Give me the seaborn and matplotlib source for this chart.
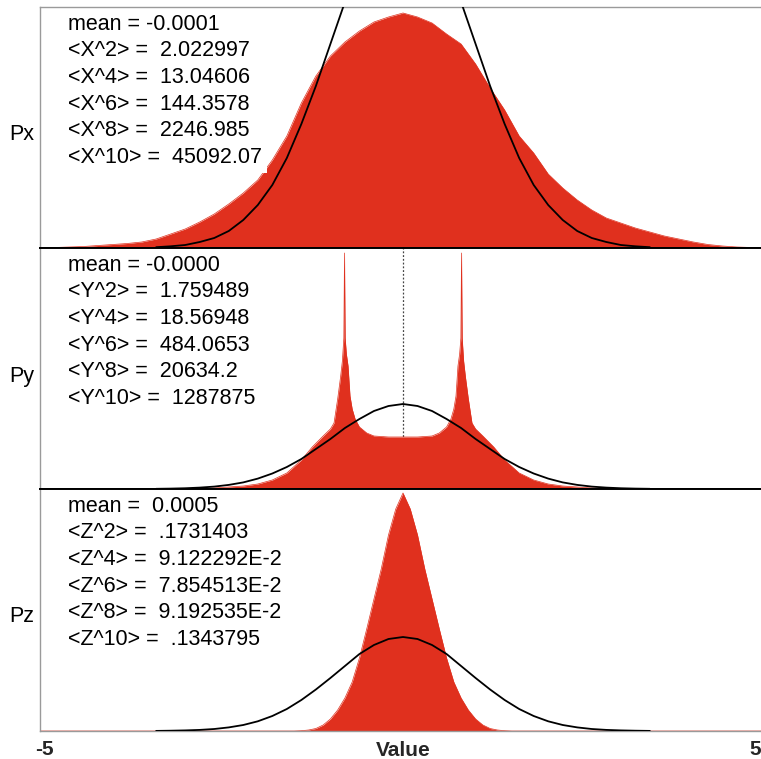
import matplotlib
matplotlib.use("Agg")
import matplotlib.pyplot as plt
import matplotlib.transforms as mtransforms
import seaborn as sns

# ---------------- data ----------------
# histogram heights are in "pixels of panel height" units
px_v = [-5.0, -4.8, -4.6, -4.4, -4.2, -4.0, -3.8, -3.6, -3.4, -3.2, -3.0,
        -2.8, -2.6, -2.4, -2.2, -2.0, -1.8, -1.6, -1.4, -1.2, -1.0,
        -0.8, -0.6, -0.4, -0.2, 0.0, 0.2, 0.4, 0.6, 0.8, 1.0,
        1.2, 1.4, 1.6, 1.8, 2.0, 2.2, 2.4, 2.6, 2.8, 3.0,
        3.2, 3.4, 3.6, 3.8, 4.0, 4.2, 4.4, 4.6, 4.8, 5.0]
px_h = [0, 0.5, 1, 1.5, 2.5, 3.5, 4.5, 6, 9, 14, 19,
        26, 34, 44, 55, 68, 88, 112, 145, 172, 192,
        206, 217, 226, 231, 235, 231, 225, 214, 204, 184,
        160, 138, 112, 95, 74, 60, 48, 38, 30, 25,
        20, 16, 12, 9, 6, 3.5, 2, 1, 0.5, 0]

py_v = [-5.0, -3.0, -2.8, -2.6, -2.4, -2.2, -2.0, -1.8, -1.6, -1.4, -1.25,
        -1.1, -1.0, -0.95, -0.9, -0.86, -0.835, -0.815, -0.806, -0.797,
        -0.78, -0.757, -0.73, -0.7, -0.66, -0.6, -0.5, -0.4, -0.2, 0.0,
        0.2, 0.4, 0.5, 0.6, 0.66, 0.7, 0.73, 0.757, 0.78, 0.797,
        0.806, 0.815, 0.835, 0.86, 0.9, 0.95, 1.0, 1.1, 1.25, 1.4,
        1.6, 1.8, 2.0, 2.2, 2.4, 2.6, 2.8, 3.0, 5.0]
py_h = [0, 0, 0.5, 1, 2, 3, 5, 9, 16, 29, 42,
        53, 60, 66, 90, 112, 128, 151, 236, 151,
        135, 123, 93, 80, 70, 62, 56, 53, 52, 52,
        52, 53, 56, 62, 70, 80, 93, 123, 135, 151,
        236, 151, 128, 112, 90, 66, 60, 53, 42, 29,
        16, 9, 5, 3, 2, 1, 0.5, 0, 0]

pz_v = [-5.0, -1.5, -1.4, -1.3, -1.2, -1.1, -1.0, -0.9, -0.8, -0.7, -0.6,
        -0.5, -0.4, -0.3, -0.2, -0.1, 0.0, 0.1, 0.2, 0.3, 0.4,
        0.5, 0.6, 0.7, 0.8, 0.9, 1.0, 1.1, 1.2, 1.3, 1.4, 1.5, 5.0]
pz_h = [0, 0, 0.3, 1, 2.5, 6, 12, 21, 33, 49, 73,
        102, 132, 162, 196, 222, 238, 222, 196, 162, 132,
        102, 73, 49, 33, 21, 12, 6, 2.5, 1, 0.3, 0, 0]

# reference gaussian curves
curve_v = [-3.4, -3.2, -3.0, -2.8, -2.6, -2.4, -2.2, -2.0, -1.8, -1.6, -1.4,
           -1.2, -1.0, -0.8, -0.6, -0.4, -0.2, 0.0, 0.2, 0.4, 0.6,
           0.8, 1.0, 1.2, 1.4, 1.6, 1.8, 2.0, 2.2, 2.4, 2.6,
           2.8, 3.0, 3.2, 3.4]
px_curve = [0.8, 1.7, 3, 6, 10, 17, 28, 43, 63, 90, 124,
            162, 204, 246, 284, 316, 336, 343, 336, 316, 284,
            246, 204, 162, 124, 90, 63, 43, 28, 17, 10,
            6, 3, 1.7, 0.8]
py_curve = [0.2, 0.4, 0.75, 1.4, 2.4, 4.1, 6.6, 10.4, 15.5, 22, 30,
            40, 50, 61, 70, 78, 83, 85, 83, 78, 70,
            61, 50, 40, 30, 22, 15.5, 10.4, 6.6, 4.1, 2.4,
            1.4, 0.75, 0.4, 0.2]
pz_curve = [0.1, 0.3, 0.6, 1.1, 2, 3.6, 6, 9.7, 15, 22, 31,
            41.5, 53, 65, 77, 86, 92, 94, 92, 86, 77,
            65, 53, 41.5, 31, 22, 15, 9.7, 6, 3.6, 2,
            1.1, 0.6, 0.3, 0.1]

panel_names = ["Px", "Py", "Pz"]
panel_texts = [
    ["mean = -0.0001", "<X^2> =  2.022997", "<X^4> =  13.04606",
     "<X^6> =  144.3578", "<X^8> =  2246.985", "<X^10> =  45092.07"],
    ["mean = -0.0000", "<Y^2> =  1.759489", "<Y^4> =  18.56948",
     "<Y^6> =  484.0653", "<Y^8> =  20634.2", "<Y^10> =  1287875"],
    ["mean =  0.0005", "<Z^2> =  .1731403", "<Z^4> =  9.122292E-2",
     "<Z^6> =  7.854513E-2", "<Z^8> =  9.192535E-2", "<Z^10> =  .1343795"],
]
x_ticks = [-5, 5]
x_tick_labels = ["-5", "5"]
x_label = "Value"

# ---------------- styling ----------------
sns.set_theme(style="white")
plt.rcParams['font.family'] = ['Liberation Sans', 'DejaVu Sans']

RED = "#e0301e"
GRAY = "#9a9a9a"
W, H = 761, 759
FS = 15.5

fig = plt.figure(figsize=(W / 100, H / 100), dpi=100)

# panel extents in pixels (top, bottom)
extents = [(7, 248), (248, 489), (489, 731)]
hist_data = [(px_v, px_h), (py_v, py_h), (pz_v, pz_h)]
curves = [px_curve, py_curve, pz_curve]
label_y = [135, 377, 617]

for i, (top, bot) in enumerate(extents):
    ax = fig.add_axes([40 / W, (H - bot) / H, 726 / W, (bot - top) / H])
    v, h = hist_data[i]
    ax.fill_between(v, h, 0, color=RED, lw=0, zorder=1)
    sns.lineplot(x=v, y=h, ax=ax, color=RED, lw=0.5, zorder=1.5, sort=False)
    sns.lineplot(x=curve_v, y=curves[i], ax=ax, color="black", lw=1.3, zorder=4)
    if i == 1:
        ax.axvline(0, color="#444444", lw=0.9, ls=(0, (1.5, 1.5)), zorder=0.5)

    ax.set_xlim(-5, 5)
    ax.set_ylim(0, bot - top)
    ax.set_xlabel("")
    ax.set_ylabel("")
    ax.set_yticks([])
    ax.tick_params(length=0)

    for s in ["left", "right", "top", "bottom"]:
        ax.spines[s].set_visible(True)
        ax.spines[s].set_color(GRAY)
        ax.spines[s].set_linewidth(1.0)
    if i < 2:
        ax.spines["bottom"].set_color("black")
        ax.spines["bottom"].set_linewidth(1.4)
    if i > 0:
        ax.spines["top"].set_color("black")
        ax.spines["top"].set_linewidth(1.4)

    # statistics text block
    height = bot - top
    for j, line in enumerate(panel_texts[i]):
        yc = top + 15 + j * 26.6
        base = yc + 0.358 * FS * 100 / 72
        pad = 3.5 if j == 5 else 1.5
        ax.text(28 / 726, (bot - base) / height, line, transform=ax.transAxes,
                ha="left", va="baseline", fontsize=FS, color="black", zorder=3,
                bbox=dict(facecolor="white", edgecolor="none", pad=pad))

    fig.text(22 / W, 1 - label_y[i] / H, panel_names[i], ha="center",
             va="center", fontsize=FS, color="black")

    if i < 2:
        ax.set_xticks([])
    else:
        ax.set_xticks(x_ticks)
        ax.set_xticklabels(x_tick_labels, fontsize=15, fontweight="bold")
        ax.tick_params(axis="x", pad=6.5)
        shifts = [4, -11]
        for tick, dx in zip(ax.xaxis.get_major_ticks(), shifts):
            tick.label1.set_transform(
                tick.label1.get_transform()
                + mtransforms.ScaledTranslation(dx / 100, 0, fig.dpi_scale_trans))
        ax.set_xlabel(x_label, fontsize=15, fontweight="bold")
        ax.xaxis.set_label_coords(0.5, -9.5 / height)

fig.savefig("out.png", dpi=100, facecolor="white")
